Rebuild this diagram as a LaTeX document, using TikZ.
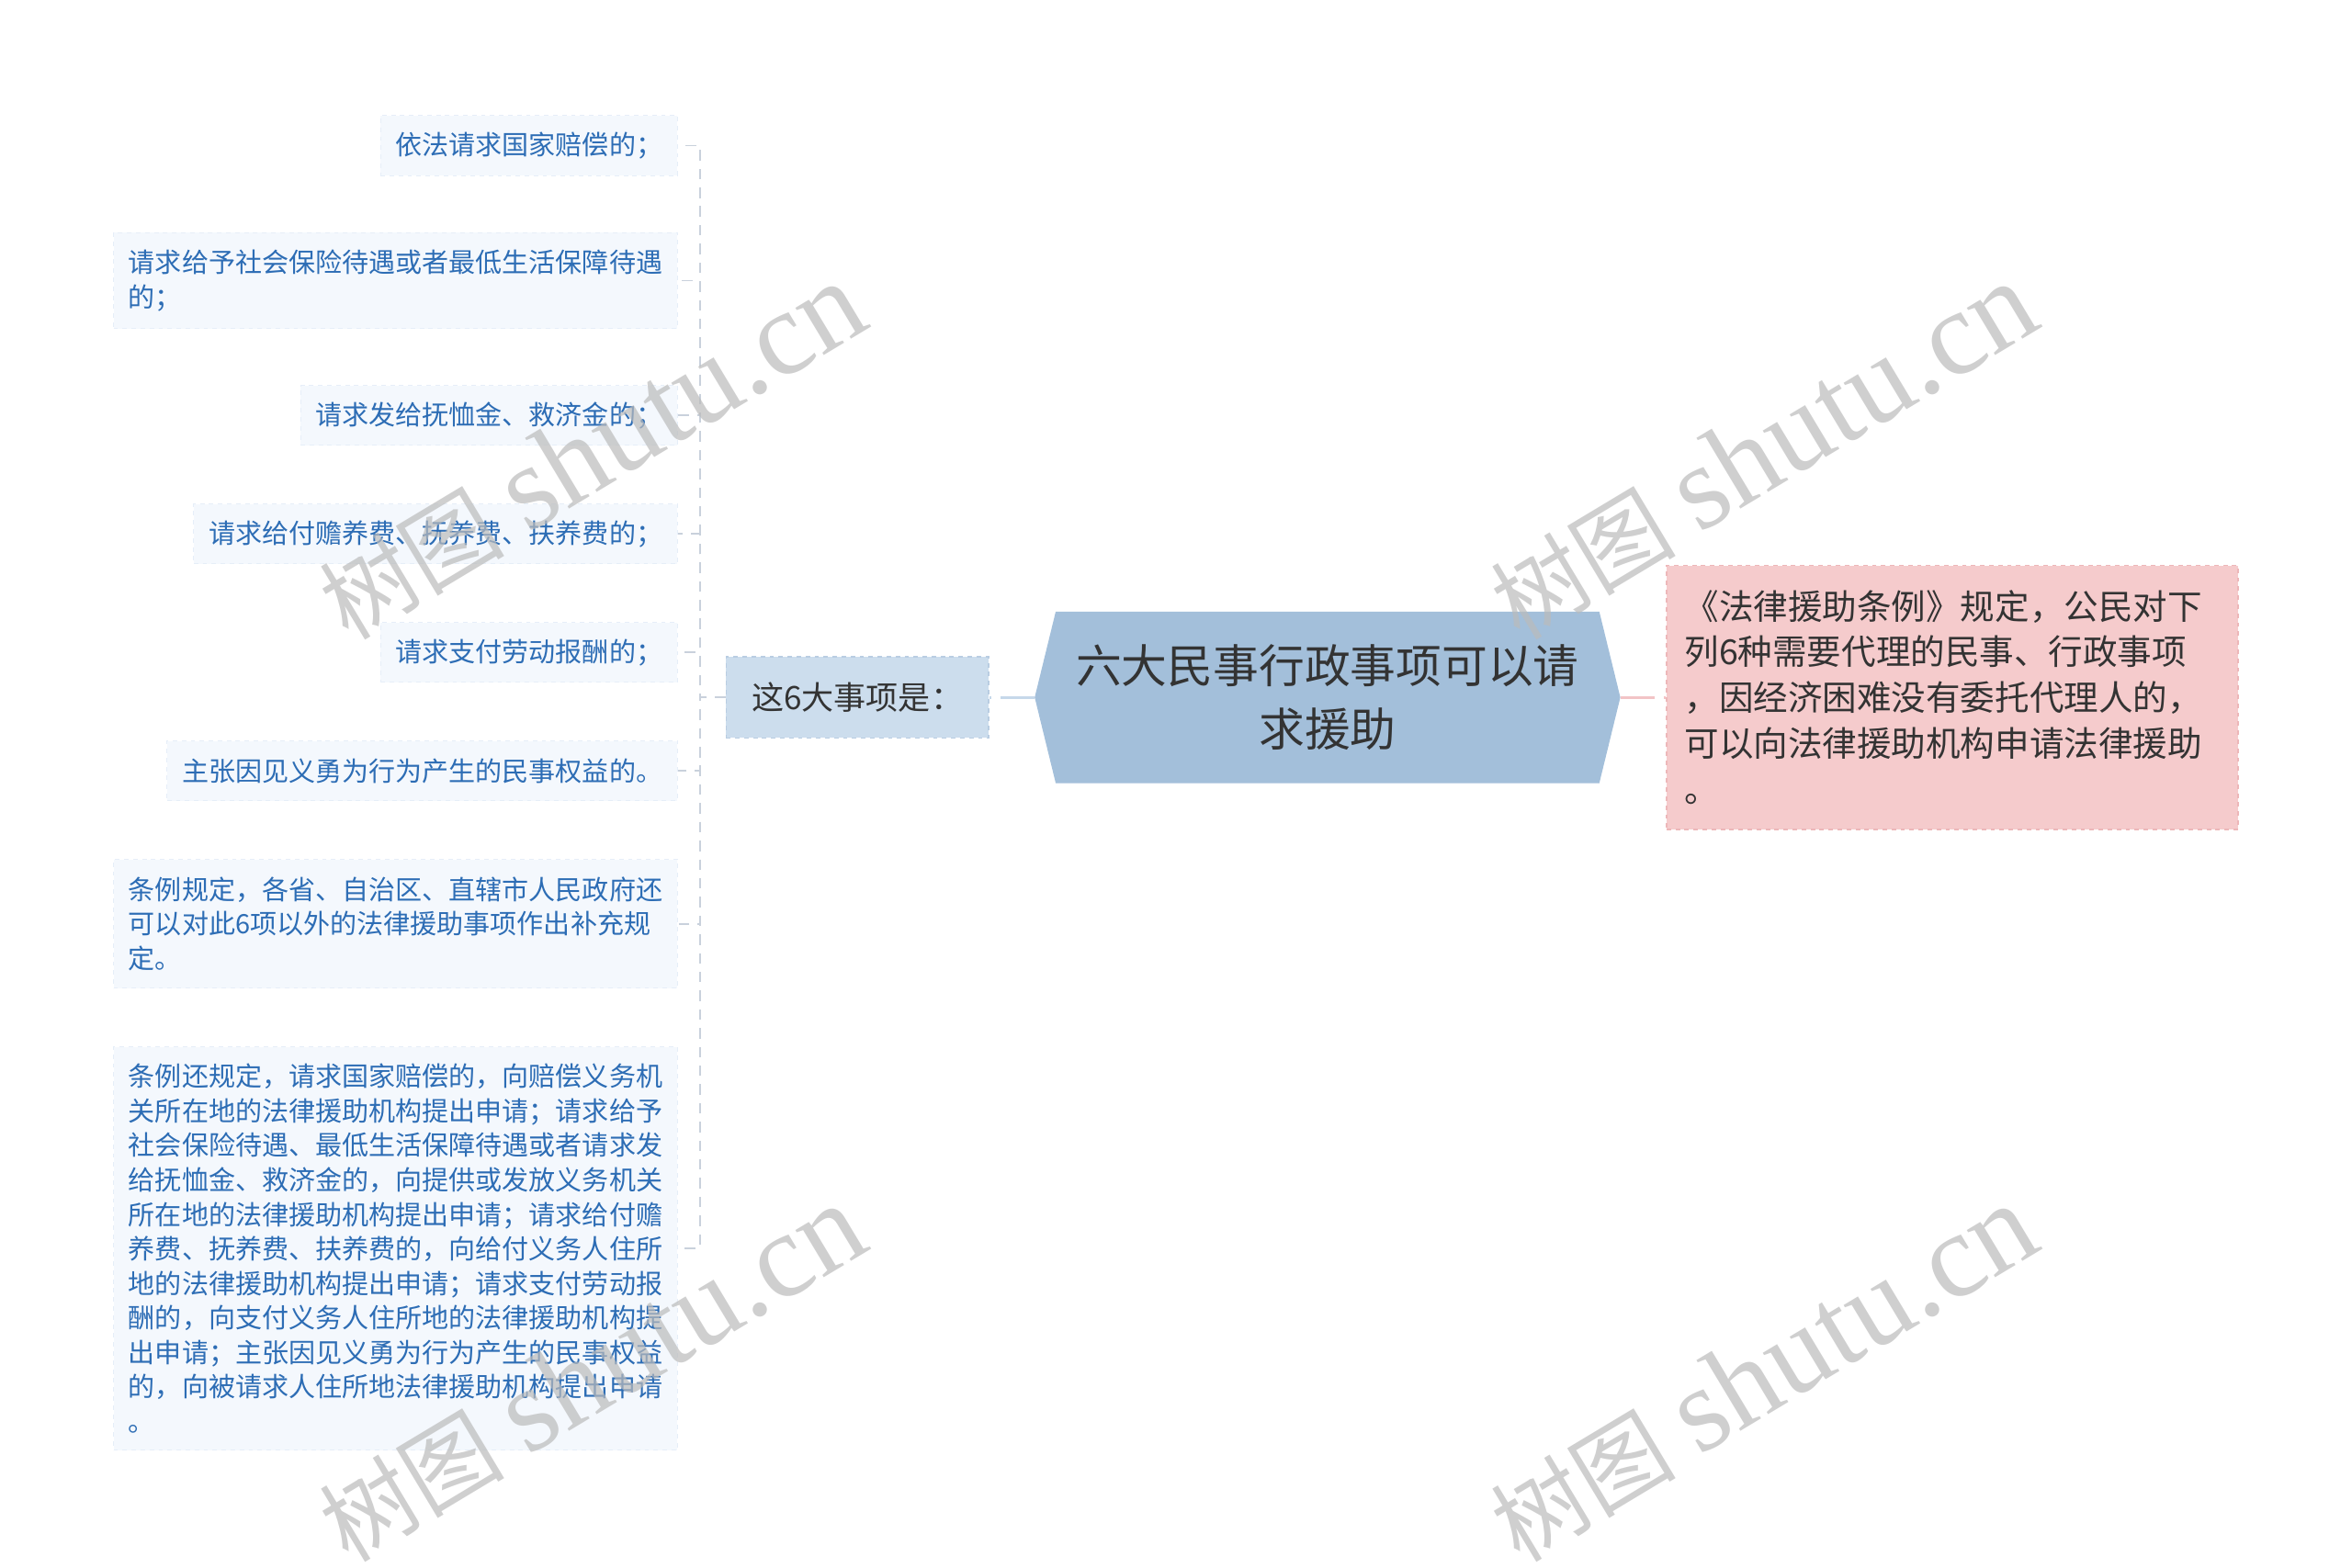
\documentclass[tikz,border=0pt]{standalone}
\usepackage{fontspec}
\setmainfont{Noto Sans CJK SC}
\newfontfamily\wmlatin{Liberation Serif}
\usetikzlibrary{backgrounds}
\definecolor{leaftext}{HTML}{2D6DB5}
\definecolor{leaffill}{HTML}{F4F8FD}
\definecolor{leafborder}{HTML}{E6EEF8}
\definecolor{spinecol}{HTML}{C9D1DC}
\definecolor{hubfill}{HTML}{CCDDED}
\definecolor{hubborder}{HTML}{B9CDE2}
\definecolor{hubline}{HTML}{C6D8EA}
\definecolor{centrefill}{HTML}{A3BFDA}
\definecolor{darktext}{HTML}{333333}
\definecolor{pinkfill}{HTML}{F5CBCC}
\definecolor{pinkborder}{HTML}{EDB7B9}
\definecolor{pinkline}{HTML}{F2C4C6}
\definecolor{wmcol}{HTML}{BBBBBB}
\begin{document}
\begin{tikzpicture}[x=1pt,y=-1pt,
  leaf/.style={fill=leaffill, draw=leafborder, dashed, line width=0.6pt, text=leaftext,
    font=\fontsize{17.8}{23}\selectfont, inner xsep=10pt, inner ysep=0pt,
    anchor=east, align=left},
  hubbox/.style={fill=hubfill, draw=hubborder, dashed, line width=0.8pt, text=darktext,
    font=\fontsize{21.5}{26}\selectfont, minimum width=175pt, minimum height=54pt,
    inner sep=0pt},
  centrebox/.style={text=darktext, font=\fontsize{30.5}{42}\selectfont,
    minimum width=390pt, minimum height=114pt, align=center, inner sep=0pt},
  pinkbox/.style={fill=pinkfill, draw=pinkborder, dashed, line width=0.8pt, text=darktext,
    font=\fontsize{23}{30.6}\selectfont, text width=357pt, inner xsep=12pt,
    minimum height=176pt, align=left},
  spine/.style={draw=spinecol, line width=1pt, dash pattern=on 7pt off 5.5pt},
  hubconn/.style={draw=hubline, line width=1.8pt, dash pattern=on 23pt off 6pt},
  pinkconn/.style={draw=pinkline, line width=1.8pt, dash pattern=on 23pt off 6pt},
  wm/.style={rotate=31, anchor=base west, text=wmcol, text opacity=0.7, inner sep=0pt}
]
\useasboundingbox (0,0) rectangle (1568,1045);

% leaves
\node[leaf, minimum height=40pt] (l1) at (452,97) {依法请求国家赔偿的；};
\node[leaf, minimum height=64pt, minimum width=376pt] (l2) at (452,187)
  {请求给予社会保险待遇或者最低生活保障待遇\\的；};
\node[leaf, minimum height=40pt] (l3) at (452,277) {请求发给抚恤金、救济金的；};
\node[leaf, minimum height=40pt] (l4) at (452,356) {请求给付赡养费、抚养费、扶养费的；};
\node[leaf, minimum height=40pt] (l5) at (452,435) {请求支付劳动报酬的；};
\node[leaf, minimum height=40pt] (l6) at (452,514) {主张因见义勇为行为产生的民事权益的。};
\node[leaf, minimum height=86pt, minimum width=376pt] (l7) at (452,616)
  {条例规定，各省、自治区、直辖市人民政府还\\可以对此6项以外的法律援助事项作出补充规\\定。};
\node[leaf, minimum height=269pt, minimum width=376pt] (l8) at (452,832.5)
  {条例还规定，请求国家赔偿的，向赔偿义务机\\
   关所在地的法律援助机构提出申请；请求给予\\
   社会保险待遇、最低生活保障待遇或者请求发\\
   给抚恤金、救济金的，向提供或发放义务机关\\
   所在地的法律援助机构提出申请；请求给付赡\\
   养费、抚养费、扶养费的，向给付义务人住所\\
   地的法律援助机构提出申请；请求支付劳动报\\
   酬的，向支付义务人住所地的法律援助机构提\\
   出申请；主张因见义勇为行为产生的民事权益\\
   的，向被请求人住所地法律援助机构提出申请\\
   。};

% hub, centre, right
\node[hubbox] (h) at (571.5,465) {这6大事项是：};
\node[centrebox] (c) at (885,465) {六大民事行政事项可以请\\求援助};
\begin{scope}[on background layer]
  \fill[centrefill] ([xshift=14pt]c.north west) -- ([xshift=-14pt]c.north east) -- (c.east)
    -- ([xshift=-14pt]c.south east) -- ([xshift=14pt]c.south west) -- (c.west) -- cycle;
\end{scope}
\node[pinkbox] (r) at (1301.5,465)
  {《法律援助条例》规定，公民对下\\列6种需要代理的民事、行政事项\\，因经济困难没有委托代理人的，\\可以向法律援助机构申请法律援助\\。};

% connectors
\foreach \n in {l1,l2,l3,l4,l5,l6,l7,l8}
  \draw[spine] (h.west) -- ++(-17,0) |- (\n.east);
\draw[hubconn] (c.west) -- (h.east);
\draw[pinkconn] (c.east) -- (r.west);

% watermarks
\foreach \nm/\px/\py in {w1/232/428, w2/1013/428, w3/232/1043, w4/1013/1043}
  \node[wm] (\nm) at (\px,\py) {\fontsize{62}{62}\selectfont 树图\hspace{0.25em}{\wmlatin\fontsize{80}{80}\selectfont shutu.cn}};
\end{tikzpicture}
\end{document}
